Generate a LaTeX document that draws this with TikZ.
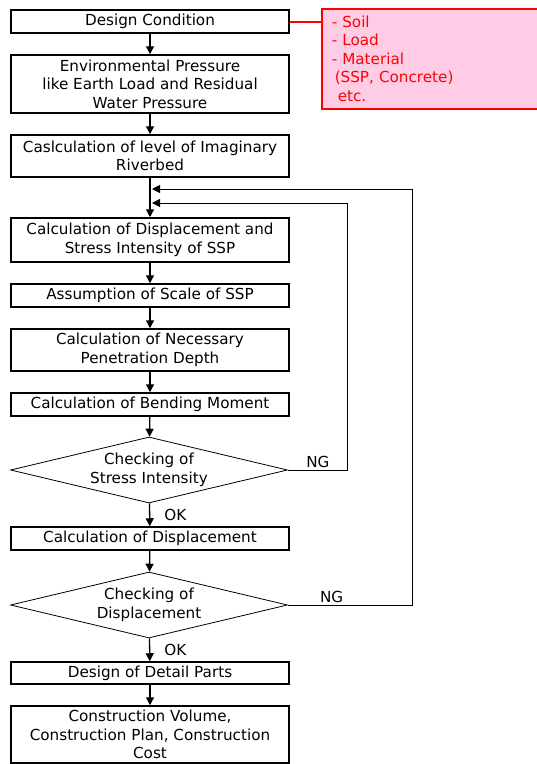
\documentclass[tikz,border=0pt]{standalone}
\usepackage{fontspec}
\setmainfont{DejaVu Sans}
\usetikzlibrary{arrows.meta, positioning, shapes.geometric}
\definecolor{notered}{RGB}{255, 0, 0}
\definecolor{notepink}{RGB}{255, 204, 230}
\newcommand{\flowfont}{\fontsize{15.2pt}{18.5pt}\selectfont}

\begin{document}
\begin{tikzpicture}[x=1pt, y=-1pt, >={Triangle[length=8pt, width=8pt]},
  stepbox/.style={draw, line width=1.5pt, minimum width=278pt, align=center,
    inner sep=1pt, font=\flowfont},
  checkbox/.style={diamond, draw, line width=0.8pt, minimum width=277pt,
    minimum height=66pt, aspect=4.2, inner sep=0pt, align=center, font=\flowfont},
  flow/.style={->, line width=1.3pt},
  tag/.style={font=\flowfont, inner sep=2pt}]

  \useasboundingbox (0,0) rectangle (537,764);
  \clip (0,0) rectangle (537,764);

  % --- main column ---
  \node[stepbox, minimum height=23pt] (cond)      at (150,21.5)  {Design Condition};
  \node[stepbox, minimum height=58pt] (pressure)  at (150,84)    {Environmental Pressure\\like Earth Load and Residual\\Water Pressure};
  \node[stepbox, minimum height=42pt] (riverbed)  at (150,156)   {Caslculation of level of Imaginary\\Riverbed};
  \node[stepbox, minimum height=44pt] (dispstress) at (150,240)  {Calculation of Displacement and\\Stress Intensity of SSP};
  \node[stepbox, minimum height=23pt] (scale)     at (150,295.5) {Assumption of Scale of SSP};
  \node[stepbox, minimum height=42pt] (depth)     at (150,350)   {Calculation of Necessary\\Penetration Depth};
  \node[stepbox, minimum height=23pt] (moment)    at (150,404.5) {Calculation of Bending Moment};
  \node[checkbox]                     (chkstress) at (149,470)   {Checking of\\Stress Intensity};
  \node[stepbox, minimum height=23pt] (disp)      at (150,538.5) {Calculation of Displacement};
  \node[checkbox]                     (chkdisp)   at (149,605)   {Checking of\\Displacement};
  \node[stepbox, minimum height=22pt] (detail)    at (150,673)   {Design of Detail Parts};
  \node[stepbox, minimum height=57pt] (cost)      at (150,734.5) {Construction Volume,\\Construction Plan, Construction\\Cost};

  % --- design condition note ---
  \node[draw=notered, fill=notepink, line width=1.5pt, anchor=north west,
    minimum width=218pt, minimum height=100pt, text width=198pt, inner xsep=10pt,
    align=left, text=notered, font=\flowfont] (soilnote) at (321,8)
    {- Soil\\- Load\\- Material\\\hspace*{3pt}(SSP, Concrete)\\\hspace*{6pt}etc.};
  \draw[draw=notered, line width=2pt] (cond.east) -- (cond.east -| soilnote.west);

  % --- forward arrows ---
  \draw[flow] (cond) -- (pressure);
  \draw[flow] (pressure) -- (riverbed);
  \draw[flow] (riverbed) -- (dispstress);
  \draw[flow] (dispstress) -- (scale);
  \draw[flow] (scale) -- (depth);
  \draw[flow] (depth) -- (moment);
  \draw[flow] (moment) -- (chkstress);
  \draw[flow] (chkstress) -- node[tag, right=12pt] {OK} (disp);
  \draw[flow] (disp) -- (chkdisp);
  \draw[flow] (chkdisp) -- node[tag, right=12pt] {OK} (detail);
  \draw[flow] (detail) -- (cost);

  % --- NG loops back ---
  \coordinate (backin) at (152,203);
  \coordinate (backout) at (152,189);
  \draw[->, line width=1pt] (chkstress.east) -- node[tag, above, pos=0.5] {NG} ++(60,0) |- (backin);
  \draw[->, line width=1pt] (chkdisp.east) -- node[tag, above, pos=0.35] {NG} ++(125,0) |- (backout);

\end{tikzpicture}
\end{document}
